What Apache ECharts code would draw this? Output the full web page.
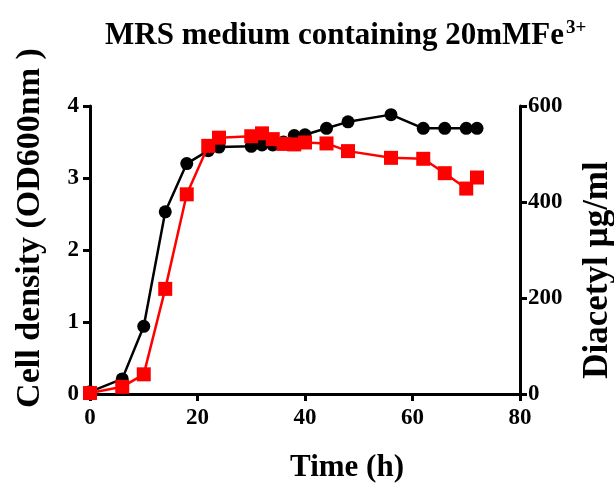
<!DOCTYPE html>
<html><head><meta charset="utf-8">
<script src="https://cdn.jsdelivr.net/npm/echarts@6/dist/echarts.min.js"></script>
<style>html,body{margin:0;padding:0;background:#fff}#c{width:614px;height:491px}</style>
</head><body><div id="c"></div>
<script>
const timeCell = [0, 6, 10, 14, 18, 22, 24, 30, 32, 34, 36, 38, 40, 44, 48, 56, 62, 66, 70, 72];
const cellDensity = [0.03, 0.21, 0.94, 2.53, 3.2, 3.38, 3.43, 3.44, 3.46, 3.46, 3.5, 3.59, 3.6, 3.69, 3.78, 3.88, 3.69, 3.69, 3.69, 3.69];
const timeDiacetyl = [0, 6, 10, 14, 18, 22, 24, 30, 32, 34, 36, 38, 40, 44, 48, 56, 62, 66, 70, 72];
const diacetyl = [2, 15, 41, 219, 416, 517, 534, 537, 543, 531, 521, 520, 524, 522, 506, 492, 490, 460, 428, 451];
const titleText = 'MRS medium containing 20mMFe';
const titleSup = '3+';
const xName = 'Time (h)';
const yLeftName = 'Cell density (OD600nm )';
const yRightName = 'Diacetyl µg/ml';

const font = '"Liberation Serif","Times New Roman",serif';
const chart = echarts.init(document.getElementById('c'));
const axisLine = {show: true, lineStyle: {color: '#000', width: 3}};
const axisTick = {show: true, length: 7, lineStyle: {color: '#000', width: 3}};
const axisLabel = {color: '#000', fontFamily: font, fontWeight: 'bold', fontSize: 23};
const tstyle = (size) => ({fill: '#000', font: 'bold ' + size + 'px ' + font});
chart.setOption({
  animation: false,
  grid: {left: 90, right: 94, top: 106, bottom: 97},
  graphic: [
    {type: 'text', x: 564, y: 51, style: Object.assign({text: titleText, textAlign: 'right', textVerticalAlign: 'bottom'}, tstyle(31))},
    {type: 'text', x: 566, y: 38, style: Object.assign({text: titleSup, textAlign: 'left', textVerticalAlign: 'bottom'}, tstyle(19))},
    {type: 'text', x: 347, y: 468, style: Object.assign({text: xName, textAlign: 'center', textVerticalAlign: 'middle'}, tstyle(31))},
    {type: 'text', x: 30, y: 228, rotation: Math.PI / 2, style: Object.assign({text: yLeftName, textAlign: 'center', textVerticalAlign: 'middle'}, tstyle(34))},
    {type: 'text', x: 598, y: 270, rotation: Math.PI / 2, style: Object.assign({text: yRightName, textAlign: 'center', textVerticalAlign: 'middle'}, tstyle(35))}
  ],
  xAxis: {
    type: 'value', min: 0, max: 80, interval: 20,
    axisLine: axisLine, axisTick: axisTick,
    axisLabel: Object.assign({margin: 13}, axisLabel),
    splitLine: {show: false}
  },
  yAxis: [{
    type: 'value', min: 0, max: 4, interval: 1, position: 'left',
    axisLine: axisLine, axisTick: axisTick,
    axisLabel: Object.assign({margin: 11}, axisLabel),
    splitLine: {show: false}
  }, {
    type: 'value', min: 0, max: 600, interval: 200, position: 'right',
    axisLine: axisLine, axisTick: axisTick,
    axisLabel: Object.assign({margin: 8}, axisLabel),
    splitLine: {show: false}
  }],
  series: [{
    type: 'line', yAxisIndex: 0,
    data: timeCell.map((t, i) => [t, cellDensity[i]]),
    symbol: 'circle', symbolSize: 13,
    lineStyle: {color: '#000', width: 2.5},
    itemStyle: {color: '#000'}, z: 2
  }, {
    type: 'line', yAxisIndex: 1,
    data: timeDiacetyl.map((t, i) => [t, diacetyl[i]]),
    symbol: 'rect', symbolSize: 14,
    lineStyle: {color: '#ff0000', width: 2.5},
    itemStyle: {color: '#ff0000'}, z: 3
  }]
});
</script></body></html>
